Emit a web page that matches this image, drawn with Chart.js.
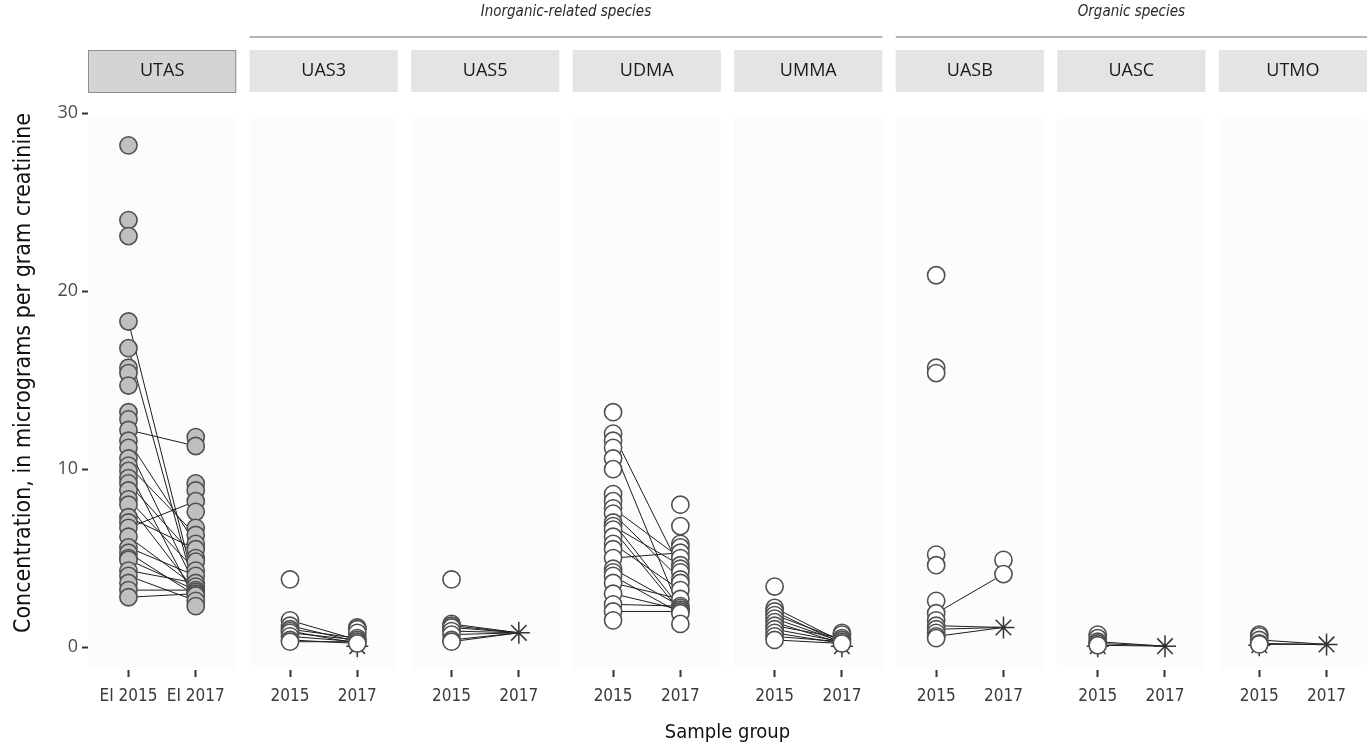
<!DOCTYPE html>
<html>
<head>
<meta charset="utf-8">
<script src="https://cdn.jsdelivr.net/npm/chart.js@4.4.1/dist/chart.umd.min.js"></script>
<style>
  html, body { margin: 0; padding: 0; background: #fff; }
  #wrap { position: relative; width: 1367px; height: 747px; }
</style>
</head>
<body>
<div id="wrap"><canvas id="graficoPares"></canvas></div>
<script>
// --- dados ---
const panelNames = ['UTAS', 'UAS3', 'UAS5', 'UDMA', 'UMMA', 'UASB', 'UASC', 'UTMO'];
const xTickLabels = [
  ['EI 2015', 'EI 2017'], ['2015', '2017'], ['2015', '2017'], ['2015', '2017'],
  ['2015', '2017'], ['2015', '2017'], ['2015', '2017'], ['2015', '2017']
];
const yTickValues = [0, 10, 20, 30];
const groupLabels = ['Inorganic-related species', 'Organic species'];
const groupPanels = [[1, 4], [5, 7]];

// circulos (valores medidos), por painel
const circles2015 = [
  [28.2, 24.0, 23.1, 18.3, 16.8, 15.7, 15.4, 14.7, 13.2, 12.8, 12.2, 11.6, 11.2, 10.6, 10.2, 9.9, 9.5, 9.2, 8.8, 8.3, 8.0, 7.3, 7.0, 6.7, 6.2, 5.6, 5.3, 5.0, 4.9, 4.3, 4.0, 3.6, 3.2, 2.8],
  [3.8, 1.5, 1.2, 1.0, 0.9, 0.8, 0.6, 0.4, 0.3],
  [3.8, 1.3, 1.2, 1.1, 0.9, 0.7, 0.4, 0.3],
  [13.2, 12.0, 11.6, 11.2, 10.6, 10.0, 8.6, 8.2, 7.8, 7.5, 7.0, 6.8, 6.6, 6.2, 5.8, 5.5, 5.0, 4.4, 4.2, 4.0, 3.6, 3.0, 2.4, 2.0, 1.5],
  [3.4, 2.2, 2.0, 1.8, 1.6, 1.4, 1.2, 1.0, 0.8, 0.6, 0.4],
  [20.9, 15.7, 15.4, 5.2, 4.6, 2.6, 1.9, 1.5, 1.2, 1.0, 0.8, 0.6, 0.5],
  [0.7, 0.5, 0.3, 0.2, 0.1],
  [0.7, 0.6, 0.4, 0.2, 0.15]
];
const circles2017 = [
  [11.8, 11.3, 9.2, 8.8, 8.2, 7.6, 6.7, 6.3, 5.8, 5.5, 5.0, 4.8, 4.3, 4.0, 3.6, 3.4, 3.2, 3.1, 3.0, 2.9, 2.6, 2.3],
  [1.1, 1.0, 0.8, 0.5, 0.4, 0.3, 0.2],
  [],
  [8.0, 6.8, 5.8, 5.6, 5.3, 5.0, 4.6, 4.4, 4.2, 3.8, 3.6, 3.2, 2.7, 2.3, 2.2, 2.1, 2.0, 1.9, 1.3],
  [0.8, 0.7, 0.5, 0.4, 0.3, 0.2],
  [4.9, 4.1],
  [],
  []
];
// asteriscos (abaixo do limite de deteccao)
const stars2015 = [[], [], [], [], [], [], [0.05], [0.1]];
const stars2017 = [[], [0.05], [0.8], [], [0.05], [1.1], [0.05], [0.15]];

// ligacoes 2015 -> 2017 (mesmo individuo)
const links2015 = [
  [18.3, 16.8, 12.2, 11.6, 11.2, 10.2, 9.9, 9.2, 8.3, 8.0, 7.3, 6.7, 6.2, 5.6, 5.3, 4.9, 4.3, 4.0, 3.2, 2.8],
  [1.5, 1.2, 1.0, 0.9, 0.8, 0.6, 0.4, 0.3],
  [1.3, 1.2, 1.1, 0.9, 0.7, 0.4, 0.3],
  [12.0, 11.2, 7.8, 7.5, 7.0, 6.8, 6.6, 5.8, 5.0, 4.4, 4.0, 3.6, 3.0, 2.4, 2.0],
  [2.2, 2.0, 1.8, 1.6, 1.4, 1.2, 1.0, 0.8, 0.6, 0.4],
  [1.9, 1.2, 1.0, 0.6],
  [0.3, 0.2, 0.1],
  [0.4, 0.2, 0.15]
];
const links2017 = [
  [3.2, 3.0, 11.3, 5.8, 3.4, 6.3, 2.6, 5.0, 4.3, 3.1, 5.5, 8.2, 3.4, 4.0, 2.9, 3.2, 3.6, 2.6, 3.2, 3.0],
  [0.4, 0.3, 0.5, 0.2, 0.4, 0.3, 0.2, 0.3],
  [0.8, 0.8, 0.8, 0.8, 0.8, 0.8, 0.8],
  [4.4, 2.0, 5.0, 3.8, 2.2, 4.6, 2.0, 3.2, 5.3, 2.3, 1.9, 2.7, 2.1, 2.3, 2.0],
  [0.3, 0.2, 0.4, 0.3, 0.2, 0.5, 0.3, 0.2, 0.3, 0.2],
  [4.1, 1.1, 1.1, 1.1],
  [0.05, 0.05, 0.05],
  [0.15, 0.15, 0.15]
];

// --- geometria dos paineis (unidades do eixo x) ---
const PANEL_STEP = 1.09;
const CAT_POS = [0.273, 0.727];
const X_MAX = (panelNames.length - 1) * PANEL_STEP + 1;
const NARROW = "'Liberation Sans Narrow', 'DejaVu Sans Condensed', sans-serif";
const OPEN = "'Open Sans', sans-serif";

const xAt = (p, c) => p * PANEL_STEP + CAT_POS[c];

const tickPositions = [];
const tickTexts = [];
panelNames.forEach((_, p) => {
  [0, 1].forEach(c => { tickPositions.push(xAt(p, c)); tickTexts.push(xTickLabels[p][c]); });
});

const datasets = [];

// linhas
panelNames.forEach((_, p) => {
  const pts = [];
  links2015[p].forEach((v, k) => {
    pts.push({ x: xAt(p, 0), y: v }, { x: xAt(p, 1), y: links2017[p][k] }, { x: xAt(p, 1), y: null });
  });
  datasets.push({
    data: pts, showLine: true, spanGaps: false,
    borderColor: '#1e1e1e', borderWidth: 1, pointRadius: 0, order: 3
  });
});

// asteriscos
const starPts = [];
panelNames.forEach((_, p) => {
  stars2015[p].forEach(v => starPts.push({ x: xAt(p, 0), y: v }));
  stars2017[p].forEach(v => starPts.push({ x: xAt(p, 1), y: v }));
});
datasets.push({
  data: starPts, pointStyle: 'star', pointRadius: 11,
  borderColor: '#333', borderWidth: 1.5, backgroundColor: 'transparent', order: 2
});

// circulos
panelNames.forEach((_, p) => {
  const pts = circles2015[p].map(v => ({ x: xAt(p, 0), y: v }))
    .concat(circles2017[p].map(v => ({ x: xAt(p, 1), y: v })));
  datasets.push({
    data: pts, pointStyle: 'circle', pointRadius: 8.6,
    borderColor: '#505050', borderWidth: 1.6,
    backgroundColor: p === 0 ? '#bfbfbf' : '#ffffff', order: 1
  });
});

const facetas = {
  id: 'facetas',
  beforeDatasetsDraw(chart) {
    const { ctx, chartArea, scales: { x } } = chart;
    ctx.save();
    ctx.fillStyle = '#fcfcfc';
    panelNames.forEach((_, p) => {
      const l = x.getPixelForValue(p * PANEL_STEP), r = x.getPixelForValue(p * PANEL_STEP + 1);
      ctx.fillRect(l, chartArea.top + 10, r - l, chartArea.bottom - chartArea.top - 10);
    });
    ctx.restore();
  },
  afterDraw(chart) {
    const { ctx, scales: { x } } = chart;
    ctx.save();
    // tiras com o nome de cada painel
    panelNames.forEach((name, p) => {
      const l = x.getPixelForValue(p * PANEL_STEP), r = x.getPixelForValue(p * PANEL_STEP + 1);
      ctx.fillStyle = p === 0 ? '#d4d4d4' : '#e4e4e4';
      ctx.fillRect(l, 50, r - l, 42);
      if (p === 0) {
        ctx.strokeStyle = '#8e8e8e'; ctx.lineWidth = 1;
        ctx.strokeRect(l + 0.5, 50.5, r - l - 1, 42);
      }
      ctx.fillStyle = '#1a1a1a';
      ctx.font = '18px ' + OPEN;
      ctx.textAlign = 'center'; ctx.textBaseline = 'middle';
      ctx.fillText(name, (l + r) / 2, 71);
    });
    // grupos
    groupLabels.forEach((txt, g) => {
      const l = x.getPixelForValue(groupPanels[g][0] * PANEL_STEP);
      const r = x.getPixelForValue(groupPanels[g][1] * PANEL_STEP + 1);
      ctx.strokeStyle = '#9c9c9c'; ctx.lineWidth = 1.5;
      ctx.beginPath(); ctx.moveTo(l, 37); ctx.lineTo(r, 37); ctx.stroke();
      ctx.fillStyle = '#2a2a2a';
      ctx.font = 'italic 15px ' + NARROW;
      ctx.textAlign = 'center'; ctx.textBaseline = 'middle';
      ctx.fillText(txt, (l + r) / 2, 12);
    });
    // titulo do eixo y
    ctx.translate(24, 373);
    ctx.rotate(-Math.PI / 2);
    ctx.fillStyle = '#111';
    ctx.font = '23px ' + NARROW;
    ctx.textAlign = 'center'; ctx.textBaseline = 'middle';
    ctx.fillText('Concentration, in micrograms per gram creatinine', 0, 0);
    ctx.restore();
  }
};

new Chart(document.getElementById('graficoPares'), {
  type: 'scatter',
  data: { datasets },
  plugins: [facetas],
  options: {
    responsive: true,
    maintainAspectRatio: false,
    animation: false,
    layout: { autoPadding: false, padding: { top: 108, right: 0, bottom: 0, left: 0 } },
    plugins: { legend: { display: false }, tooltip: { enabled: false } },
    scales: {
      x: {
        type: 'linear', min: 0, max: X_MAX,
        afterBuildTicks: s => { s.ticks = tickPositions.map(v => ({ value: v })); },
        afterFit: s => { s.height = 77; s.paddingLeft = 0; s.paddingRight = 0; },
        grid: { drawOnChartArea: false, drawTicks: true, tickLength: 7, tickWidth: 2, tickColor: '#333' },
        border: { display: false },
        ticks: {
          autoSkip: false, maxRotation: 0, padding: 9, color: '#3a3a3a',
          font: { family: NARROW, size: 17 },
          callback: (v, i) => tickTexts[i]
        },
        title: {
          display: true, text: 'Sample group', color: '#111',
          font: { family: NARROW, size: 20 }, padding: { top: 0, bottom: 2 }
        }
      },
      y: {
        min: -1.29, max: 30.3,
        afterBuildTicks: s => { s.ticks = yTickValues.map(v => ({ value: v })); },
        afterFit: s => { s.width = 88; },
        grid: { drawOnChartArea: false, drawTicks: true, tickLength: 6, tickWidth: 2, tickColor: '#333' },
        border: { display: false },
        ticks: { padding: 4, color: '#4d4d4d', font: { family: OPEN, size: 18 } }
      }
    }
  }
});
</script>
</body>
</html>
